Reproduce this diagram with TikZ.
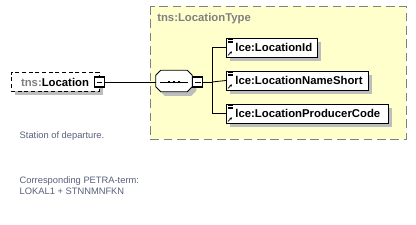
\documentclass[tikz,border=0pt]{standalone}
\usepackage{fontspec}
\setmainfont{Liberation Sans}
\usetikzlibrary{arrows.meta,shadows}
\definecolor{ink}{HTML}{000000}
\definecolor{muted}{HTML}{808080}
\definecolor{shade}{HTML}{BDBDBD}
\definecolor{soft}{HTML}{FFFFCC}
\definecolor{note}{HTML}{56607A}
\tikzset{
  shad/.style={drop shadow={shadow xshift=3pt,shadow yshift=-3pt,fill=shade,opacity=1}},
  elem/.style={draw=ink,line width=.6pt,fill=white,anchor=west,inner xsep=6.75pt,inner ysep=0pt,
    minimum height=14.25pt,align=left,font=\bfseries\fontsize{8.5}{10}\selectfont,shad},
  root/.style={elem,anchor=center,dash pattern=on 3pt off 2pt,inner xsep=0pt,minimum width=66pt,align=center},
  minus/.style={draw=ink,line width=.9pt,fill=white,minimum size=7.5pt,inner sep=0pt},
  seqbox/.style={minimum width=27pt,minimum height=15.75pt,inner sep=0pt},
  grp/.style={draw=muted,line width=.6pt,dash pattern=on 6.5pt off 3.5pt,fill=soft},
  wire/.style={draw=ink,line width=.6pt},
  note/.style={align=left,anchor=west,font=\fontsize{7}{8.25}\selectfont,text=note},
}

\begin{document}
\begin{tikzpicture}[x=0.75pt,y=-0.75pt]
  \useasboundingbox (0,0) rectangle (416,224);

  % ── the type box ──
  \draw[grp] (150,6) rectangle (406,139);
  \node[anchor=west,inner sep=0pt,font=\bfseries\fontsize{8.5}{10}\selectfont,text=muted] (tname) at (157,19) {tns:LocationType};

  % ── element and its sequence ──
  \node[root] (loc) at (55,82) {\textcolor{muted}{tns:}Location};
  \node[minus] (locm) at (loc.east) {};
  \draw[wire] ([xshift=-2pt]locm.center) -- ([xshift=2pt]locm.center);

  \node[seqbox] (seq) at (174,81) {};
  \draw[wire,fill=white,shad] ([shift={(5,0)}]seq.north west) -- ([shift={(-5,0)}]seq.north east)
    -- ([shift={(0,5)}]seq.north east) -- ([shift={(0,-5)}]seq.south east)
    -- ([shift={(-5,0)}]seq.south east) -- ([shift={(5,0)}]seq.south west)
    -- ([shift={(0,-5)}]seq.south west) -- ([shift={(0,5)}]seq.north west) -- cycle;
  \draw[wire] ([shift={(4,1)}]seq.west) -- ([shift={(-4,1)}]seq.east);
  \foreach \dx in {-5,0,5} \fill[ink] ([shift={(\dx,1)}]seq.center) +(-1.4,-1.4) rectangle +(1.4,1.4);
  \node[minus,anchor=west] (seqm) at ([shift={(0,1)}]seq.east) {};
  \draw[wire] ([xshift=-2pt]seqm.center) -- ([xshift=2pt]seqm.center);

  % ── children ──
  \node[elem,text width=54.75pt] (c1) at (226,47.5) {lce:LocationId};
  \node[elem,text width=93pt] (c2) at (226,80.5) {lce:LocationNameShort};
  \node[elem,text width=108pt] (c3) at (226,113.5) {lce:LocationProducerCode};
  \foreach \n in {c1,c2,c3} {
    \foreach \dy in {2,3.6,5.2} \draw[ink,line width=.5pt] ([shift={(2,\dy)}]\n.north west) -- ++(5,0);
    \draw[ink,line width=.6pt,-{Stealth[length=2pt,width=2pt]}] ([shift={(2,-2)}]\n.south west) -- ++(4,-4);
  }

  % connectors
  \coordinate (br) at (212,82);
  \draw[wire] (locm.east) -- ([shift={(0,1)}]seq.west);
  \draw[wire] (seqm.east) -- (br);
  \draw[wire] (br) |- (c1.west);
  \draw[wire] (br) -- (c2.west);
  \draw[wire] (br) |- (c3.west);

  % ── notes ──
  \node[note] (n1) at (15,136.5) {Station of departure.};
  \node[note] (n2) at (15,186) {Corresponding PETRA-term:\\LOKAL1 + STNNMNFKN};
\end{tikzpicture}
\end{document}
